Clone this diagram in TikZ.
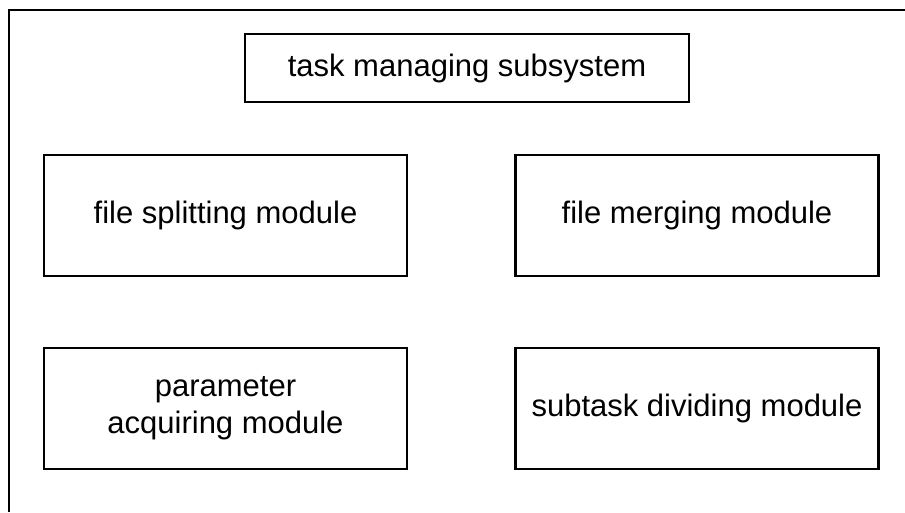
\documentclass[tikz,border=0pt]{standalone}
\usepackage{fontspec}
\setmainfont{Liberation Sans}
\begin{document}
\begin{tikzpicture}[x=1pt,y=-1pt,
  frameline/.style={line width=2.4pt},
  modbox/.style={draw,line width=2.4pt,align=center,inner sep=0pt,
    font=\fontsize{31}{37}\selectfont},
  bigbox/.style={modbox,minimum width=363pt,minimum height=121pt}]
\useasboundingbox (0,0) rectangle (905,512);
% open outer frame running off the right and bottom edges
\coordinate (ftr) at (905,10);
\coordinate (ftl) at (9,10);
\coordinate (fbl) at (9,512);
\draw[frameline] (ftr) -- (ftl) -- (fbl);
% subsystem and its modules
\node[modbox,minimum width=444pt,minimum height=68pt] (tms) at (467,68) {task managing subsystem};
\node[bigbox] (fsm) at (225.5,215.5) {file splitting module};
\node[bigbox] (fmm) at (697,215.5) {file merging module};
\node[bigbox] (pam) at (225.5,408.5) {parameter\\acquiring module};
\node[bigbox] (sdm) at (697,408.5) {subtask dividing module};
\end{tikzpicture}
\end{document}
